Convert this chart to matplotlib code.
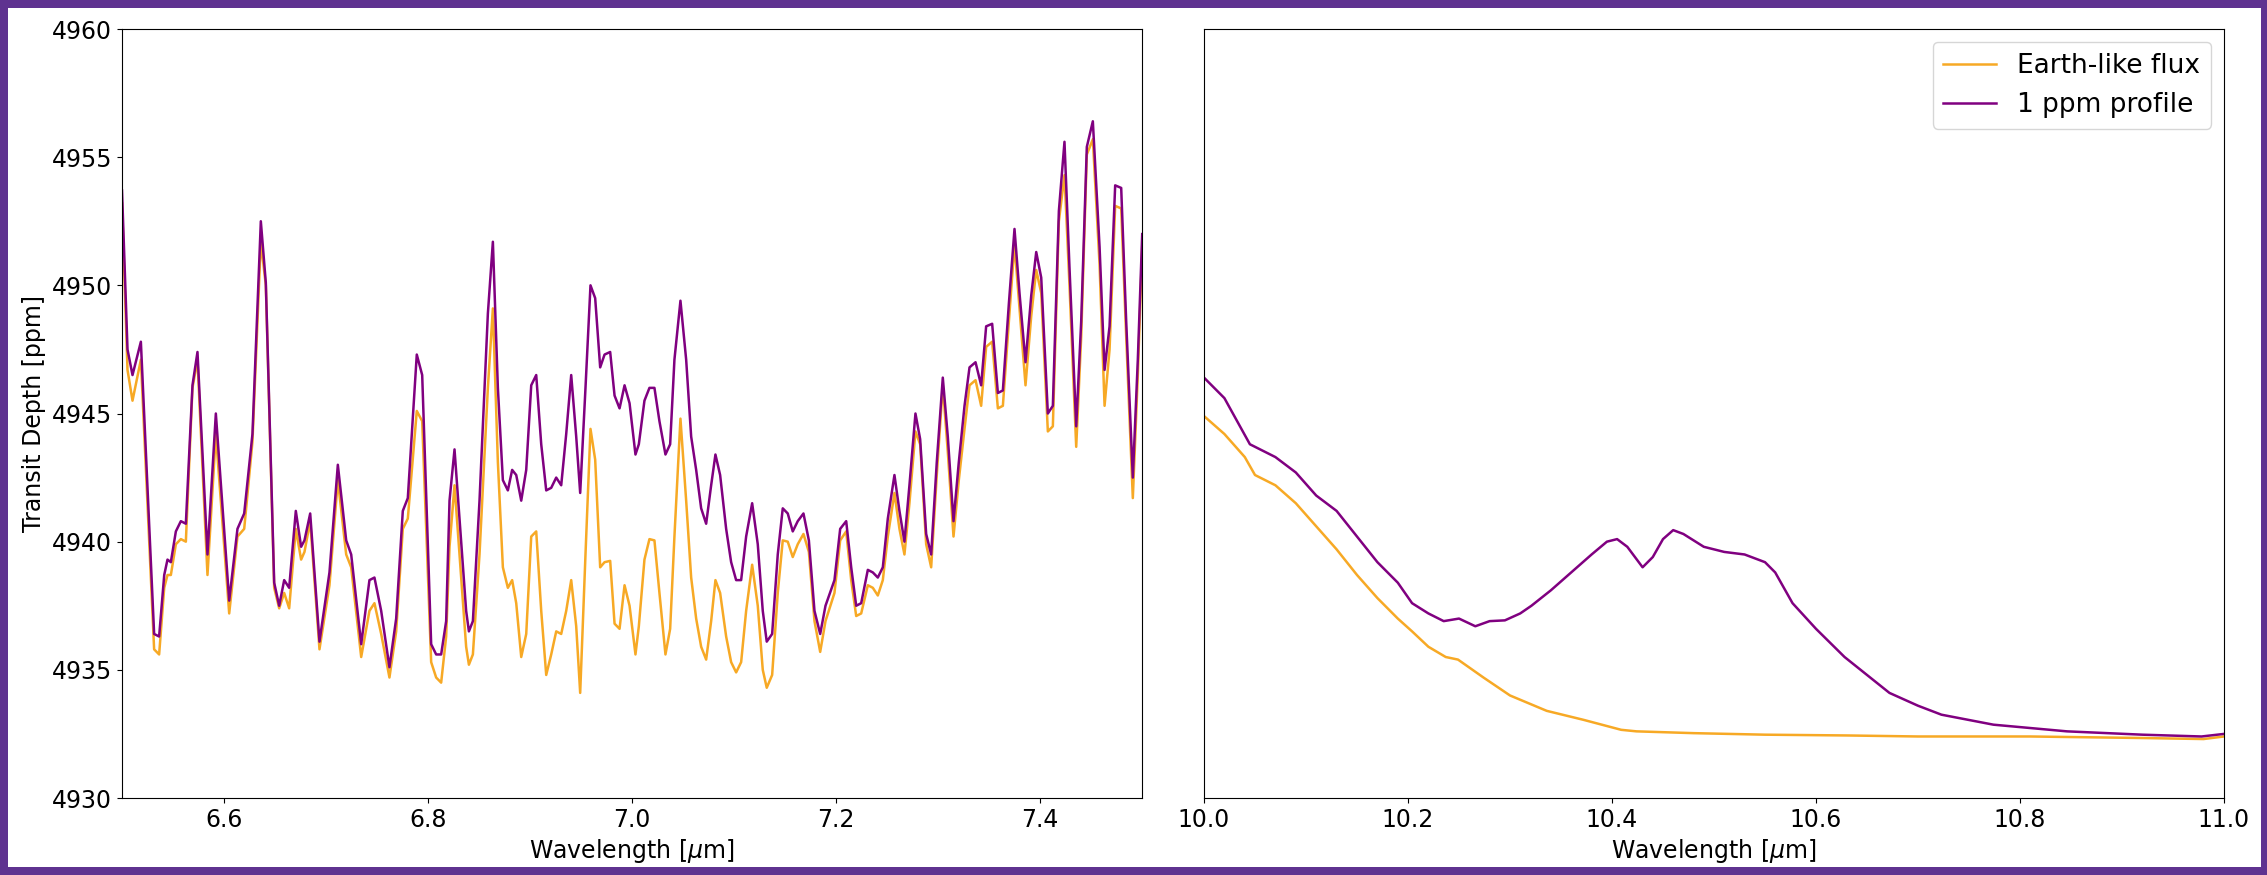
import numpy as np
import matplotlib.pyplot as plt
from matplotlib.patches import Rectangle

# 6.5 - 7.5 um window (shared wavelength samples for both models)
wl_a = [6.5000, 6.5054, 6.5103, 6.5185, 6.5315, 6.5364, 6.5414, 6.5446, 6.5479, 6.5528,
        6.5577, 6.5626, 6.5691, 6.5740, 6.5838, 6.5920, 6.6051, 6.6132, 6.6198, 6.6279,
        6.6361, 6.6410, 6.6492, 6.6541, 6.6590, 6.6639, 6.6704, 6.6756, 6.6789, 6.6845,
        6.6936, 6.7034, 6.7116, 6.7198, 6.7247, 6.7345, 6.7426, 6.7475, 6.7541, 6.7622,
        6.7688, 6.7753, 6.7802, 6.7890, 6.7943, 6.8031, 6.8080, 6.8129, 6.8178, 6.8211,
        6.8260, 6.8374, 6.8401, 6.8440, 6.8505, 6.8587, 6.8636, 6.8685, 6.8734, 6.8783,
        6.8825, 6.8865, 6.8914, 6.8963, 6.9012, 6.9061, 6.9110, 6.9159, 6.9208, 6.9257,
        6.9306, 6.9355, 6.9404, 6.9453, 6.9492, 6.9544, 6.9593, 6.9639, 6.9688, 6.9731,
        6.9786, 6.9829, 6.9878, 6.9927, 6.9976, 7.0034, 7.0067, 7.0122, 7.0171, 7.0220,
        7.0269, 7.0328, 7.0374, 7.0416, 7.0475, 7.0531, 7.0580, 7.0629, 7.0678, 7.0727,
        7.0776, 7.0818, 7.0864, 7.0923, 7.0972, 7.1021, 7.1070, 7.1119, 7.1178, 7.1233,
        7.1282, 7.1321, 7.1374, 7.1429, 7.1478, 7.1527, 7.1576, 7.1625, 7.1681, 7.1734,
        7.1789, 7.1845, 7.1897, 7.1985, 7.2041, 7.2100, 7.2149, 7.2198, 7.2247, 7.2312,
        7.2361, 7.2410, 7.2459, 7.2508, 7.2573, 7.2622, 7.2671, 7.2720, 7.2779, 7.2825,
        7.2884, 7.2933, 7.2988, 7.3047, 7.3096, 7.3152, 7.3204, 7.3260, 7.3309, 7.3368,
        7.3423, 7.3472, 7.3531, 7.3587, 7.3636, 7.3695, 7.3750, 7.3799, 7.3858, 7.3914,
        7.3963, 7.4012, 7.4077, 7.4126, 7.4185, 7.4240, 7.4289, 7.4355, 7.4404, 7.4459,
        7.4518, 7.4584, 7.4633, 7.4682, 7.4737, 7.4796, 7.4845, 7.4910, 7.4959, 7.5002]

earth_a = [4953.2, 4946.7, 4945.5, 4947.1, 4935.8, 4935.6, 4938.2, 4938.7, 4938.7, 4939.9,
           4940.1, 4940.0, 4946.0, 4947.1, 4938.7, 4944.2, 4937.2, 4940.2, 4940.5, 4943.9,
           4951.7, 4950.0, 4938.2, 4937.4, 4938.0, 4937.4, 4940.5, 4939.3, 4939.6, 4940.8,
           4935.8, 4938.3, 4942.4, 4939.5, 4939.0, 4935.5, 4937.3, 4937.6, 4936.4, 4934.7,
           4936.5, 4940.5, 4940.9, 4945.1, 4944.7, 4935.3, 4934.7, 4934.5, 4936.3, 4939.8,
           4942.2, 4935.9, 4935.2, 4935.6, 4939.5, 4946.0, 4949.1, 4943.1, 4939.0, 4938.2,
           4938.5, 4937.6, 4935.5, 4936.4, 4940.2, 4940.4, 4937.3, 4934.8, 4935.6, 4936.5,
           4936.4, 4937.3, 4938.5, 4936.7, 4934.1, 4939.5, 4944.4, 4943.2, 4939.0, 4939.2,
           4939.25, 4936.8, 4936.6, 4938.3, 4937.5, 4935.6, 4936.7, 4939.3, 4940.1, 4940.05,
           4938.0, 4935.6, 4936.6, 4940.2, 4944.8, 4941.6, 4938.6, 4937.0, 4935.9, 4935.4,
           4936.9, 4938.5, 4938.0, 4936.3, 4935.3, 4934.9, 4935.3, 4937.3, 4939.1, 4937.5,
           4935.0, 4934.3, 4934.8, 4938.0, 4940.05, 4940.0, 4939.4, 4939.9, 4940.3, 4939.6,
           4936.9, 4935.7, 4936.9, 4938.0, 4940.05, 4940.4, 4938.5, 4937.1, 4937.2, 4938.3,
           4938.2, 4937.9, 4938.5, 4940.2, 4941.9, 4940.5, 4939.5, 4941.5, 4944.3, 4943.8,
           4939.9, 4939.0, 4942.6, 4946.1, 4943.5, 4940.2, 4942.4, 4944.4, 4946.1, 4946.3,
           4945.3, 4947.6, 4947.8, 4945.2, 4945.3, 4948.6, 4951.6, 4949.1, 4946.1, 4948.8,
           4950.6, 4949.7, 4944.3, 4944.5, 4952.5, 4954.3, 4950.0, 4943.7, 4948.0, 4955.1,
           4955.7, 4950.8, 4945.3, 4947.5, 4953.1, 4953.0, 4948.0, 4941.7, 4946.5, 4951.5]

ppm_a = [4953.7, 4947.5, 4946.5, 4947.8, 4936.4, 4936.3, 4938.7, 4939.3, 4939.2, 4940.4,
         4940.8, 4940.7, 4946.1, 4947.4, 4939.5, 4945.0, 4937.7, 4940.5, 4941.1, 4944.2,
         4952.5, 4950.1, 4938.4, 4937.5, 4938.5, 4938.2, 4941.2, 4939.8, 4940.05, 4941.1,
         4936.1, 4938.8, 4943.0, 4940.05, 4939.5, 4936.0, 4938.5, 4938.6, 4937.3, 4935.1,
         4937.0, 4941.2, 4941.7, 4947.3, 4946.5, 4936.0, 4935.6, 4935.6, 4936.9, 4941.6,
         4943.6, 4937.3, 4936.5, 4936.9, 4941.6, 4948.9, 4951.7, 4946.0, 4942.4, 4942.0,
         4942.8, 4942.6, 4941.6, 4942.8, 4946.1, 4946.5, 4943.8, 4942.0, 4942.1, 4942.5,
         4942.2, 4944.2, 4946.5, 4944.1, 4941.9, 4946.0, 4950.0, 4949.5, 4946.8, 4947.3,
         4947.4, 4945.7, 4945.2, 4946.1, 4945.4, 4943.4, 4943.8, 4945.5, 4946.0, 4946.0,
         4944.7, 4943.4, 4943.8, 4947.1, 4949.4, 4947.1, 4944.1, 4942.8, 4941.3, 4940.7,
         4942.2, 4943.4, 4942.6, 4940.5, 4939.2, 4938.5, 4938.5, 4940.2, 4941.5, 4939.9,
         4937.3, 4936.1, 4936.4, 4939.5, 4941.3, 4941.1, 4940.4, 4940.8, 4941.1, 4940.05,
         4937.3, 4936.4, 4937.5, 4938.5, 4940.5, 4940.8, 4939.0, 4937.5, 4937.6, 4938.9,
         4938.8, 4938.6, 4939.0, 4940.9, 4942.6, 4941.2, 4940.0, 4942.2, 4945.0, 4944.0,
         4940.3, 4939.5, 4943.1, 4946.4, 4944.1, 4940.8, 4943.1, 4945.3, 4946.8, 4947.0,
         4946.1, 4948.4, 4948.5, 4945.8, 4945.9, 4949.3, 4952.2, 4949.7, 4947.0, 4949.6,
         4951.3, 4950.3, 4945.0, 4945.3, 4952.9, 4955.6, 4950.7, 4944.5, 4948.6, 4955.4,
         4956.4, 4951.5, 4946.7, 4948.4, 4953.9, 4953.8, 4948.6, 4942.5, 4947.1, 4952.0]

# 10 - 11 um window
wl_earth_b = [10.00, 10.02, 10.04, 10.05, 10.07, 10.09, 10.11, 10.13, 10.15, 10.17,
              10.19, 10.204, 10.22, 10.237, 10.249, 10.274, 10.30, 10.336, 10.372, 10.409,
              10.424, 10.48, 10.55, 10.63, 10.70, 10.81, 10.92, 10.98, 11.00]
earth_b = [4944.9, 4944.2, 4943.3, 4942.6, 4942.2, 4941.5, 4940.6, 4939.7, 4938.7, 4937.8,
           4937.0, 4936.5, 4935.9, 4935.5, 4935.4, 4934.7, 4934.0, 4933.4, 4933.05, 4932.66,
           4932.6, 4932.53, 4932.47, 4932.44, 4932.4, 4932.4, 4932.34, 4932.3, 4932.4]

wl_ppm_b = [10.00, 10.02, 10.045, 10.07, 10.09, 10.11, 10.13, 10.15, 10.17, 10.19,
            10.204, 10.22, 10.235, 10.25, 10.266, 10.28, 10.295, 10.31, 10.321, 10.34,
            10.36, 10.38, 10.395, 10.405, 10.415, 10.43, 10.44, 10.45, 10.46, 10.47,
            10.49, 10.51, 10.53, 10.55, 10.56, 10.577, 10.60, 10.628, 10.65, 10.672,
            10.70, 10.723, 10.774, 10.81, 10.846, 10.92, 10.978, 11.00]
ppm_b = [4946.4, 4945.6, 4943.8, 4943.3, 4942.7, 4941.8, 4941.2, 4940.2, 4939.2, 4938.4,
         4937.6, 4937.2, 4936.9, 4937.0, 4936.7, 4936.9, 4936.93, 4937.2, 4937.5, 4938.1,
         4938.8, 4939.5, 4940.0, 4940.1, 4939.8, 4939.0, 4939.4, 4940.1, 4940.45, 4940.3,
         4939.8, 4939.6, 4939.5, 4939.2, 4938.8, 4937.6, 4936.6, 4935.5, 4934.8, 4934.1,
         4933.6, 4933.25, 4932.86, 4932.73, 4932.6, 4932.47, 4932.4, 4932.5]

plt.rcParams['font.size'] = 17

fig = plt.figure(figsize=(22.67, 8.75), dpi=100, facecolor='#5f3290')
# white canvas inside the coloured frame
fig.add_artist(Rectangle((8/2267, 8/875), 2253/2267, 859/875,
                         transform=fig.transFigure, facecolor='white',
                         edgecolor='none', zorder=0))

ax1 = fig.add_axes([122/2267, 77/875, 1020/2267, 769/875])
ax2 = fig.add_axes([1204/2267, 77/875, 1020/2267, 769/875], sharey=ax1)

c_earth = '#f7a925'
c_ppm = '#800080'
ax1.plot(wl_a, earth_a, color=c_earth, lw=1.8, label='Earth-like flux')
ax1.plot(wl_a, ppm_a, color=c_ppm, lw=1.8, label='1 ppm profile')
ax2.plot(wl_earth_b, earth_b, color=c_earth, lw=1.8, label='Earth-like flux')
ax2.plot(wl_ppm_b, ppm_b, color=c_ppm, lw=1.8, label='1 ppm profile')

ax1.set_xlim(6.5, 7.5)
ax2.set_xlim(10.0, 11.0)
ax1.set_ylim(4930, 4960)
ax1.set_xticks([6.6, 6.8, 7.0, 7.2, 7.4])
ax2.set_xticks([10.0, 10.2, 10.4, 10.6, 10.8, 11.0])
ax1.set_yticks(np.arange(4930, 4961, 5))
ax2.tick_params(axis='y', left=False, labelleft=False)

ax1.set_ylabel('Transit Depth [ppm]')
ax1.set_xlabel(r'Wavelength [$\mu$m]')
ax2.set_xlabel(r'Wavelength [$\mu$m]')
ax2.legend(loc='upper right', fontsize=19)

plt.savefig('out.png', dpi=100, facecolor=fig.get_facecolor())
